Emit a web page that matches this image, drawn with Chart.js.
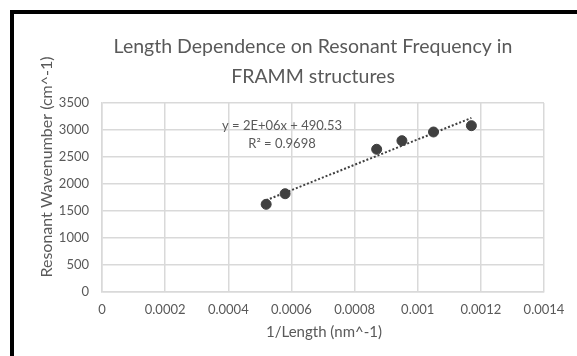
<!DOCTYPE html>
<html>
<head>
  <title>FRAMM Length Dependence</title>
  <script src="https://cdn.jsdelivr.net/npm/chart.js"></script>
  <style>
    html, body { margin: 0; padding: 0; background: #ffffff; }
    #wrap { position: relative; width: 577px; height: 356px; overflow: hidden; }
    #frame {
      position: absolute; left: 10px; top: 10px; right: -10px; bottom: -10px;
      border-left: 4px solid #000; border-top: 4px solid #000;
      pointer-events: none;
    }
  </style>
</head>
<body>
<div id="wrap">
  <canvas id="chart" width="577" height="356"></canvas>
  <div id="frame"></div>
</div>

<script>
  // data
  const invLength = [0.00052, 0.00058, 0.00087, 0.00095, 0.00105, 0.00117];
  const wavenumber = [1624, 1820, 2643, 2802, 2963, 3080];
  const xTickLabels = ['0', '0.0002', '0.0004', '0.0006', '0.0008', '0.001', '0.0012', '0.0014'];
  const yTickLabels = ['0', '500', '1000', '1500', '2000', '2500', '3000', '3500'];
  const titleLines = ['Length Dependence on Resonant Frequency in', 'FRAMM structures'];
  const eqLines = ['y = 2E+06x + 490.53', 'R\u00B2 = 0.9698'];

  const txt = '#595959';
  const font = 'Lato, "Open Sans", sans-serif';

  // least squares trendline, like Excel's linear trendline
  const n = invLength.length;
  const mx = invLength.reduce((a, b) => a + b, 0) / n;
  const my = wavenumber.reduce((a, b) => a + b, 0) / n;
  let sxy = 0, sxx = 0;
  invLength.forEach((x, i) => { sxy += (x - mx) * (wavenumber[i] - my); sxx += (x - mx) * (x - mx); });
  const slope = sxy / sxx;
  const icept = my - slope * mx;
  const xMin = Math.min(...invLength), xMax = Math.max(...invLength);
  const trend = [{ x: xMin, y: slope * xMin + icept }, { x: xMax, y: slope * xMax + icept }];

  const points = invLength.map((x, i) => ({ x: x, y: wavenumber[i] }));

  // titles and trendline label
  const textPlugin = {
    id: 'texts',
    afterDraw(chart) {
      const ctx = chart.ctx;
      ctx.save();
      ctx.fillStyle = txt;
      ctx.textAlign = 'center';
      ctx.textBaseline = 'middle';
      ctx.font = '19.5px ' + font;
      ctx.fillText(titleLines[0], 313, 47);
      ctx.fillText(titleLines[1], 313, 77);

      ctx.font = '15px ' + font;
      ctx.fillText('1/Length (nm^-1)', 324, 332);

      ctx.font = '13px ' + font;
      ctx.fillText(eqLines[0], 282, 126);
      ctx.fillText(eqLines[1], 282, 144);

      ctx.font = '16px ' + font;
      ctx.translate(47, 167);
      ctx.rotate(-Math.PI / 2);
      ctx.fillText('Resonant Wavenumber (cm^-1)', 0, 0);
      ctx.restore();
    }
  };

  new Chart(document.getElementById('chart'), {
    type: 'scatter',
    data: {
      datasets: [
        {
          label: 'Trendline',
          data: trend,
          showLine: true,
          borderColor: '#404040',
          borderWidth: 2,
          borderDash: [2, 2],
          pointRadius: 0,
          fill: false
        },
        {
          label: 'Wavenumber',
          data: points,
          backgroundColor: '#404040',
          borderColor: '#404040',
          pointRadius: 5,
          pointHoverRadius: 5
        }
      ]
    },
    options: {
      responsive: false,
      animation: false,
      layout: { padding: { top: 103, right: 33, bottom: 0, left: 0 } },
      plugins: {
        legend: { display: false },
        tooltip: { enabled: false },
        title: { display: false }
      },
      scales: {
        x: {
          type: 'linear',
          min: 0,
          max: 0.0014,
          ticks: {
            stepSize: 0.0002,
            color: txt,
            font: { family: font, size: 13 },
            padding: 10,
            maxRotation: 0,
            callback: (v, i) => xTickLabels[i]
          },
          grid: { color: '#d9d9d9', lineWidth: 1.5, drawTicks: false },
          border: { color: '#d9d9d9', width: 1.5 },
          afterFit: s => { s.height = 64; }
        },
        y: {
          type: 'linear',
          min: 0,
          max: 3500,
          ticks: {
            stepSize: 500,
            color: txt,
            font: { family: font, size: 13 },
            padding: 13,
            callback: (v, i) => yTickLabels[i]
          },
          grid: { color: '#d9d9d9', lineWidth: 1.5, drawTicks: false },
          border: { color: '#d9d9d9', width: 1.5 },
          afterFit: s => { s.width = 102; }
        }
      }
    },
    plugins: [textPlugin]
  });
</script>
</body>
</html>
